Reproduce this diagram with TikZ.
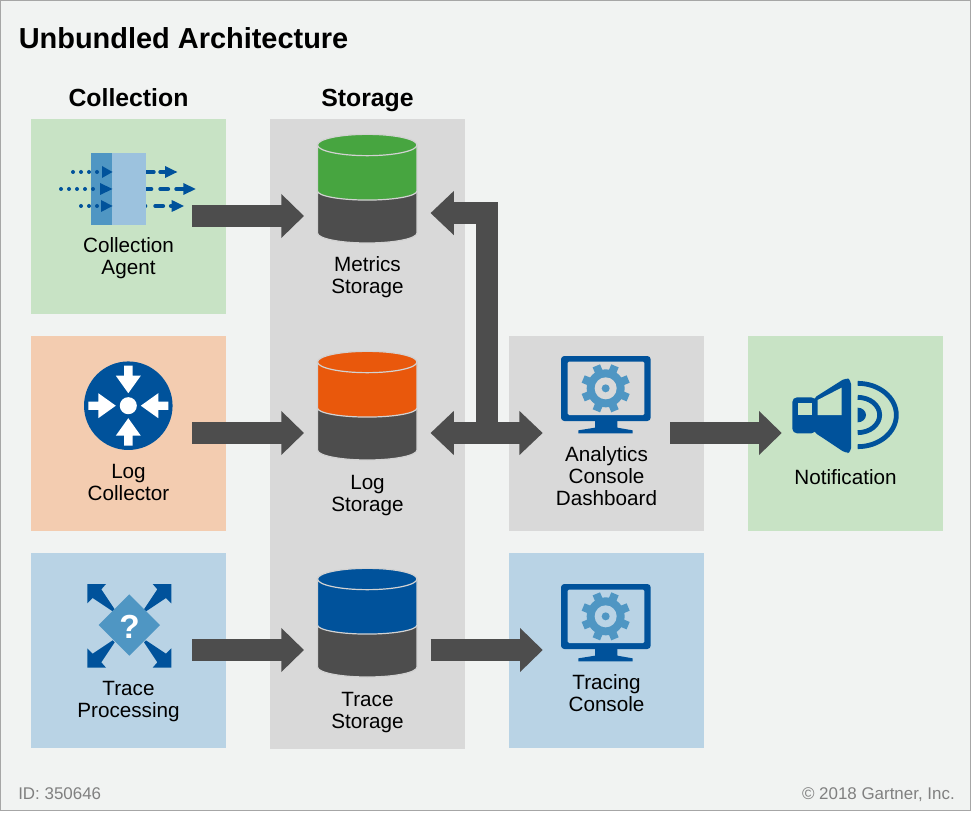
\documentclass[tikz,border=0pt]{standalone}
\usepackage{fontspec}
\setmainfont{Liberation Sans}
\usetikzlibrary{arrows.meta}
\definecolor{bgc}{HTML}{F1F3F2}
\definecolor{edgec}{HTML}{A6A6A6}
\definecolor{greenbox}{HTML}{C8E3C5}
\definecolor{orangebox}{HTML}{F3CCB0}
\definecolor{bluebox}{HTML}{B9D3E5}
\definecolor{greybox}{HTML}{D9D9D9}
\definecolor{darkb}{HTML}{00529B}
\definecolor{midb}{HTML}{4F96C3}
\definecolor{lightb}{HTML}{9CC2DE}
\definecolor{flowc}{HTML}{4D4D4D}
\definecolor{cylgreen}{HTML}{47A540}
\definecolor{cylorange}{HTML}{E9580C}
\definecolor{cylline}{HTML}{D2D2D2}
\definecolor{footc}{HTML}{808080}
\tikzset{
  panel/.style={rectangle,draw=none,inner sep=0pt,minimum width=146.25pt,minimum height=146.25pt},
  label/.style={align=center,inner sep=0pt,text=black,font=\fontsize{15.5}{16.5}\selectfont},
  header/.style={inner sep=0pt,text=black,font=\fontsize{18.6}{20}\selectfont\bfseries},
  foot/.style={inner sep=0pt,text=footc,font=\fontsize{12.7}{14}\selectfont},
  port/.style={rectangle,inner sep=0pt,minimum width=75pt,minimum height=1pt},
  flow/.style={draw=flowc,line width=16pt,-{Triangle[length=17pt,width=32pt]}},
  flowback/.style={draw=flowc,line width=16pt,{Triangle[length=17.5pt,width=32pt]}-},
  flowboth/.style={draw=flowc,line width=16pt,{Triangle[length=17.5pt,width=32pt]}-{Triangle[length=17.5pt,width=32pt]}},
  tinyhead/.style={fill=darkb,draw=none},
}
\newcommand{\cylinderat}[3]{% name, y offset, colour
  \begin{scope}[shift={(0,#2)}]
    \filldraw[fill=flowc,draw=cylline,line width=.9pt] (317.5,192) -- (317.5,233) arc[start angle=180,end angle=360,x radius=37.3pt,y radius=7.5pt] -- (417,192) -- cycle;
    \filldraw[fill=#3,draw=cylline,line width=.9pt] (317.5,145) -- (317.5,191) arc[start angle=180,end angle=360,x radius=37.3pt,y radius=6.8pt] -- (417,145) -- cycle;
    \filldraw[fill=#3,draw=cylline,line width=.9pt] (367.25,145) ellipse[x radius=37.3pt,y radius=8pt];
    \node[port] (#1) at (367.25,216) {};
  \end{scope}}
\newcommand{\monitorat}[2]{% y offset, background colour
  \begin{scope}[shift={(540,345+#1)},x=.25pt,y=-.25pt]
    \fill[darkb,rounded corners=2.5pt] (63,33) rectangle (332,228);
    \fill[darkb] (165,225) -- (232,225) -- (232,248) -- (278,256) -- (278,265) -- (115,265) -- (115,256) -- (165,248) -- cycle;
    \fill[#2,rounded corners=1pt] (83,50) rectangle (313,210);
    \foreach \a in {22.5,67.5,...,337.5}
      \fill[midb,shift={(197,130)},rotate=\a] (40,-12) -- (73,-12) -- (73,12) -- (40,12) -- cycle;
    \fill[midb] (197,130) circle[radius=57];
    \fill[#2] (197,130) circle[radius=33];
    \fill[midb] (197,130) circle[radius=12];
  \end{scope}}
\newcommand{\routerarrow}[1]{%
  \fill[white,shift={(128.3,405.7)},rotate=#1] (4.2,-40) -- (4.2,-30) -- (12.5,-30) -- (0,-12.5) -- (-12.5,-30) -- (-4.2,-30) -- (-4.2,-40) -- cycle;}
\begin{document}
\begin{tikzpicture}[x=.75pt,y=-.75pt]
\useasboundingbox (0,0) rectangle (972,813);
\fill[white] (0,0) rectangle (972,813);
\filldraw[fill=bgc,draw=edgec,line width=.75pt] (.5,.5) rectangle (970.5,810.5);

\node[inner sep=0pt,anchor=west,font=\fontsize{21.7}{24}\selectfont\bfseries] (title) at (18.5,38) {Unbundled Architecture};
\node[header] (colhead) at (128.5,98) {Collection};
\node[header] (storhead) at (367.5,100) {Storage};

\node[panel,fill=greenbox] (agent) at (128.5,217) {};
\node[panel,fill=orangebox] (collector) at (128.5,433.5) {};
\node[panel,fill=bluebox] (processing) at (128.5,650.5) {};
\node[rectangle,inner sep=0pt,fill=greybox,minimum width=146.25pt,minimum height=471.75pt] (storage) at (367.5,434) {};
\node[panel,fill=greybox] (dashboard) at (606.5,433.5) {};
\node[panel,fill=bluebox] (tracing) at (606.5,650.5) {};
\node[panel,fill=greenbox] (notification) at (845.5,433.5) {};

% collection agent icon
\foreach \a/\b/\y in {144/153.6/172,160.4/166/172,144/151.2/189,160.4/168/189,176.4/185/189,144/145.2/206,155.4/163/206,171/173/206}
  \draw[darkb,line width=3.2pt,line cap=round] (\a,\y) -- (\b,\y);
\fill[midb] (91,153) rectangle (112,225);
\fill[lightb] (112,153) rectangle (146,225);
\foreach \x/\y in {73/172,81/172,89/172,97/172,61/189,69/189,77/189,85/189,93/189,81/206,89/206,97/206}
  \fill[darkb] (\x,\y) circle[radius=1.5pt];
\fill[tinyhead] (102,166) -- (112.5,172) -- (102,178) -- cycle;
\fill[tinyhead] (100,183) -- (112.5,189) -- (100,195) -- cycle;
\fill[tinyhead] (101,200) -- (112.5,206) -- (101,212) -- cycle;
\fill[tinyhead] (165,166) -- (177.3,172) -- (165,178) -- cycle;
\fill[tinyhead] (183.3,183) -- (195.7,189) -- (183.3,195) -- cycle;
\fill[tinyhead] (171.7,200) -- (184,206) -- (171.7,212) -- cycle;

% log collector icon
\fill[darkb] (128.3,405.7) circle[radius=33.2pt];
\fill[white] (128.3,405.7) circle[radius=6.4pt];
\routerarrow{0}\routerarrow{90}\routerarrow{180}\routerarrow{270}

% trace processing icon
\begin{scope}[shift={(70,570)},x=.25pt,y=-.25pt]
  \fill[darkb] (222,118) -- (262,58) -- (248,42) -- (304,42) -- (304,100) -- (288,84) -- (228,124) -- cycle;
  \fill[darkb] (134,118) -- (94,58) -- (108,42) -- (52,42) -- (52,100) -- (68,84) -- (128,124) -- cycle;
  \fill[darkb] (222,217) -- (262,277) -- (248,293) -- (304,293) -- (304,235) -- (288,251) -- (228,211) -- cycle;
  \fill[darkb] (134,217) -- (94,277) -- (108,293) -- (52,293) -- (52,235) -- (68,251) -- (128,211) -- cycle;
  \fill[midb] (178,73) -- (270,165) -- (178,257) -- (86,165) -- cycle;
\end{scope}
\node[inner sep=0pt,text=white,font=\fontsize{25}{26}\selectfont\bfseries] (qmark) at (129.5,626.5) {?};

% cylinders
\cylinderat{metrics}{0}{cylgreen}
\cylinderat{logstore}{217}{cylorange}
\cylinderat{tracestore}{434}{darkb}

% monitors
\monitorat{0}{greybox}
\monitorat{228}{bluebox}

% notification icon
\begin{scope}[shift={(780,365)},x=.25pt,y=-.25pt]
  \fill[darkb,rounded corners=3.5pt] (37,97) -- (108,97) -- (108,205) -- (37,205) -- cycle;
  \fill[darkb,rounded corners=3pt] (100,100) -- (198,38) -- (213,45) -- (213,262) -- (198,265) -- (100,200) -- cycle;
  \fill[greenbox] (53,113) rectangle (95,150);
  \fill[greenbox] (113,105) -- (185,68) -- (185,150) -- (113,150) -- cycle;
  \fill[darkb] (233,128) arc[start angle=90,end angle=-90,x radius=6.25pt,y radius=5.5pt] -- cycle;
  \draw[darkb,line width=3.6pt] (233,97) arc[start angle=90,end angle=-90,x radius=16.5pt,y radius=13.25pt];
  \draw[darkb,line width=3.6pt] (233,55) arc[start angle=90,end angle=-90,x radius=29pt,y radius=23.75pt];
\end{scope}

% labels
\node[label] (agentlbl) at (128.5,258) {Collection\\Agent};
\node[label] (collectorlbl) at (128.5,482) {Log\\Collector};
\node[label] (processinglbl) at (128.5,702) {Trace\\Processing};
\node[label] (metricslbl) at (367.5,277) {Metrics\\Storage};
\node[label] (loglbl) at (367.5,495.5) {Log\\Storage};
\node[label] (tracelbl) at (367.5,713) {Trace\\Storage};
\node[label] (dashlbl) at (606.5,476.5) {Analytics\\Console\\Dashboard};
\node[label] (tracinglbl) at (606.5,693) {Tracing\\Console};
\node[label] (notiflbl) at (845.5,477) {Notification};

% connectors
\coordinate (junction) at (487,433);
\draw[flow] ([xshift=-25.5pt]agent.east |- metrics.east) -- ([xshift=-9.75pt]metrics.west);
\draw[flow] ([xshift=-25.5pt]collector.east |- logstore.east) -- ([xshift=-9.75pt]logstore.west);
\draw[flow] ([xshift=-25.5pt]processing.east |- tracestore.east) -- ([xshift=-9.75pt]tracestore.west);
\draw[flow] ([xshift=9.75pt]tracestore.east) -- ([xshift=25.5pt]tracing.west |- tracestore.east);
\draw[flowboth] ([xshift=9.75pt]logstore.east) -- ([xshift=25.5pt]dashboard.west |- logstore.east);
\draw[flowback] ([xshift=9.75pt,yshift=2.2pt]metrics.east) -| (junction);
\draw[flow] ([xshift=-25.5pt]dashboard.east |- logstore.east) -- ([xshift=25.5pt]notification.west |- logstore.east);

\node[foot,anchor=west] (idtext) at (18,794) {ID: 350646};
\node[foot,anchor=east] (copytext) at (955,795) {© 2018 Gartner, Inc.};
\end{tikzpicture}
\end{document}
